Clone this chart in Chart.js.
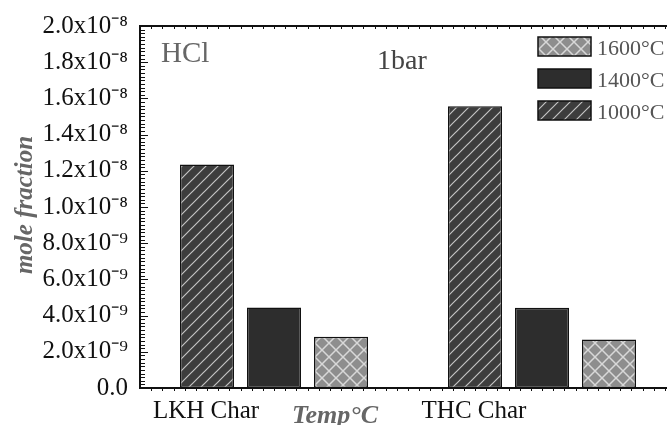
<!DOCTYPE html>
<html>
<head>
<meta charset="utf-8">
<script src="https://cdn.jsdelivr.net/npm/chart.js@4"></script>
<style>
  html, body { margin: 0; padding: 0; background: #fff; overflow: hidden; }
</style>
</head>
<body>
<canvas id="myChart" width="676" height="425"></canvas>
<script>
// data
const categories = ['LKH Char', 'THC Char'];
const temps = ['1000°C', '1400°C', '1600°C'];
const hcl1000 = [1.235e-8, 1.556e-8];
const hcl1400 = [4.45e-9, 4.43e-9];
const hcl1600 = [2.83e-9, 2.68e-9];
const yTickLabels = ['0.0', '2.0x10⁻⁹', '4.0x10⁻⁹', '6.0x10⁻⁹', '8.0x10⁻⁹', '1.0x10⁻⁸',
  '1.2x10⁻⁸', '1.4x10⁻⁸', '1.6x10⁻⁸', '1.8x10⁻⁸', '2.0x10⁻⁸'];

const serif = "'Liberation Serif', 'Times New Roman', serif";
const ctx = document.getElementById('myChart').getContext('2d');

// fill patterns
function hatchPattern() {
  const c = document.createElement('canvas');
  c.width = 12; c.height = 12;
  const g = c.getContext('2d');
  g.fillStyle = '#3d3d3d';
  g.fillRect(0, 0, 12, 12);
  g.strokeStyle = '#c4c4c4';
  g.lineWidth = 1.2;
  g.beginPath();
  g.moveTo(0, 12); g.lineTo(12, 0);
  g.moveTo(-6, 6); g.lineTo(6, -6);
  g.moveTo(6, 18); g.lineTo(18, 6);
  g.stroke();
  return ctx.createPattern(c, 'repeat');
}
function crossPattern() {
  const s = 14;
  const c = document.createElement('canvas');
  c.width = s; c.height = s;
  const g = c.getContext('2d');
  g.fillStyle = '#8e8e8e';
  g.fillRect(0, 0, s, s);
  g.strokeStyle = '#d8d8d8';
  g.lineWidth = 1.5;
  g.beginPath();
  g.moveTo(0, 0); g.lineTo(s, s);
  g.moveTo(0, s); g.lineTo(s, 0);
  g.stroke();
  return ctx.createPattern(c, 'repeat');
}

// axes frame, minor ticks, legend and labels
const decor = {
  id: 'decor',
  afterDraw(chart) {
    const c = chart.ctx;
    const a = chart.chartArea;
    const y = chart.scales.y;
    const x = chart.scales.x;
    c.save();
    c.strokeStyle = '#111';
    c.lineWidth = 2;
    c.beginPath();
    c.moveTo(a.left, a.top); c.lineTo(a.left, a.bottom);
    c.moveTo(a.left - 1, a.bottom); c.lineTo(a.right, a.bottom);
    c.moveTo(a.left - 1, a.top); c.lineTo(a.right, a.top);
    c.stroke();

    c.lineWidth = 1;
    c.beginPath();
    for (let k = 0; k <= 100; k++) {
      const py = Math.round(y.getPixelForValue(k * 2e-10)) + 0.5;
      const len = k % 10 === 0 ? 8 : 5;
      c.moveTo(a.left, py); c.lineTo(a.left + len, py);
    }
    for (let k = 1; k < 48; k++) {
      const px = Math.round(x.getPixelForDecimal(k / 48)) + 0.5;
      c.moveTo(px, a.bottom); c.lineTo(px, a.bottom + 3);
      c.moveTo(px, a.top); c.lineTo(px, a.top + 3);
    }
    c.stroke();

    // legend, reversed order
    const ds = chart.data.datasets.slice().reverse();
    c.font = '22px ' + serif;
    c.textBaseline = 'alphabetic';
    ds.forEach((d, i) => {
      const top = 37 + i * 32;
      c.fillStyle = d.backgroundColor;
      c.fillRect(538, top, 53, 19);
      c.strokeStyle = '#111';
      c.lineWidth = 1.5;
      c.strokeRect(538, top, 53, 19);
      c.fillStyle = '#555';
      c.fillText(d.label, 597, top + 18);
    });

    // annotations
    c.fillStyle = '#666';
    c.font = '29px ' + serif;
    c.fillText('HCl', 161, 62);
    c.fillStyle = '#444';
    c.font = '28px ' + serif;
    c.fillText('1bar', 377, 69);

    // axis titles
    c.fillStyle = '#666';
    c.font = 'italic bold 26px ' + serif;
    c.textAlign = 'center';
    c.fillText('Temp°C', 335, 423);
    c.translate(32, 205);
    c.rotate(-Math.PI / 2);
    c.font = 'italic bold 25px ' + serif;
    c.fillText('mole fraction', 0, 0);
    c.restore();
  }
};

const myChart = new Chart(ctx, {
  type: 'bar',
  data: {
    labels: categories,
    datasets: [
      { label: temps[0], data: hcl1000, backgroundColor: hatchPattern() },
      { label: temps[1], data: hcl1400, backgroundColor: '#2d2d2d' },
      { label: temps[2], data: hcl1600, backgroundColor: crossPattern() }
    ]
  },
  options: {
    responsive: false,
    animation: false,
    layout: { padding: { top: 26, left: 0, right: 0, bottom: 0 } },
    datasets: {
      bar: {
        categoryPercentage: 0.75,
        barPercentage: 0.806,
        borderColor: '#111',
        borderWidth: 1.5,
        borderSkipped: false
      }
    },
    plugins: {
      legend: { display: false },
      tooltip: { enabled: false }
    },
    scales: {
      x: {
        grid: { display: false },
        border: { display: false },
        ticks: { color: '#111', font: { family: serif, size: 25 }, padding: 0, labelOffset: -68 },
        afterFit: s => { s.height = 37; }
      },
      y: {
        min: 0,
        max: 2e-8,
        grid: { display: false },
        border: { display: false },
        ticks: {
          stepSize: 2e-9,
          color: '#111',
          font: { family: serif, size: 25 },
          padding: 4,
          callback: (v, i) => yTickLabels[i]
        },
        afterFit: s => { s.width = 140; }
      }
    }
  },
  plugins: [decor]
});
</script>
</body>
</html>
